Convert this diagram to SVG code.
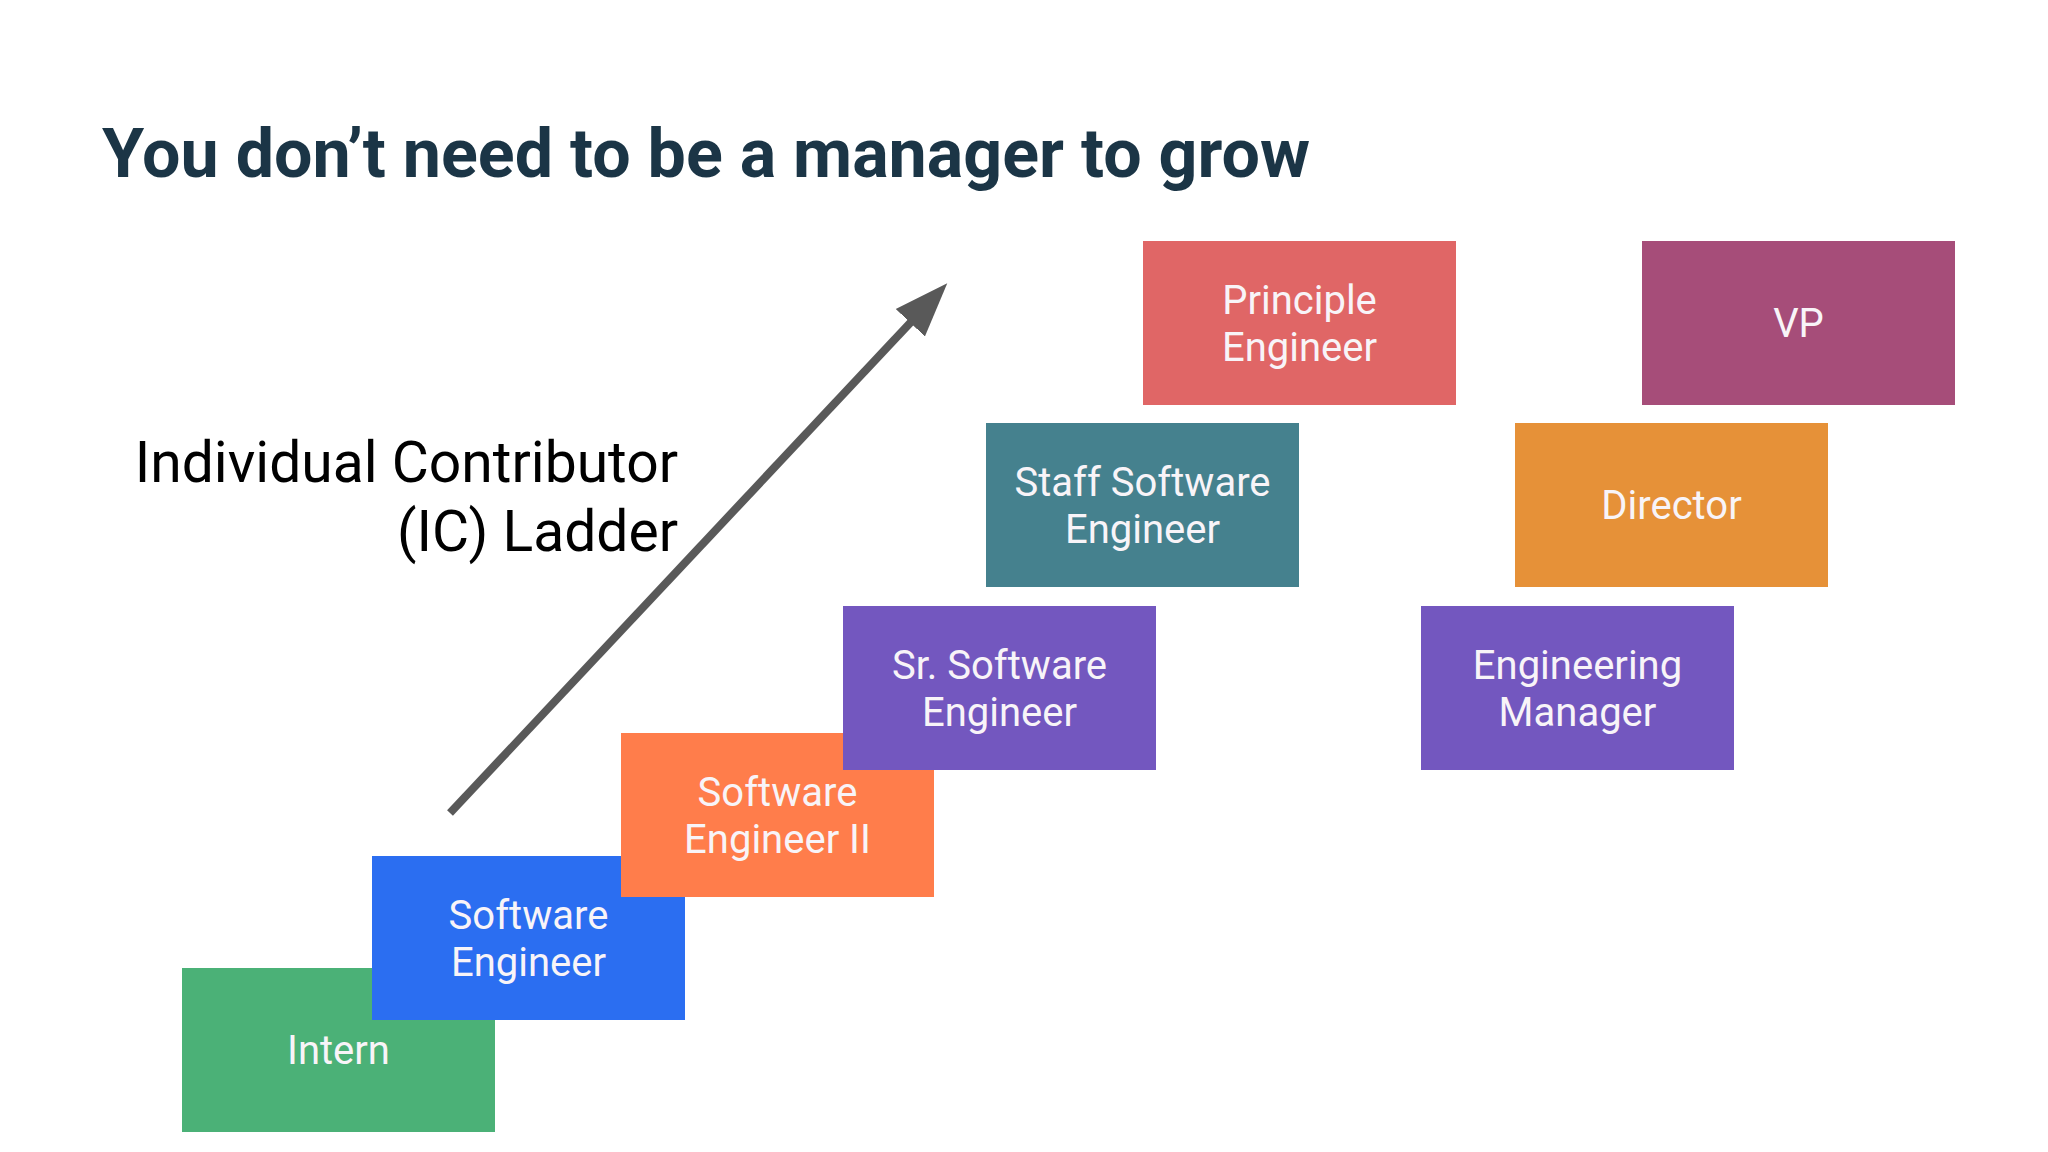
<svg xmlns="http://www.w3.org/2000/svg" width="2048" height="1152" viewBox="0 0 2048 1152">
  <style>
    .title { font-family: Roboto, "Liberation Sans", sans-serif; font-weight: 700; font-size: 68px; fill: #1b3546; }
    .side { font-family: Roboto, "Liberation Sans", sans-serif; font-size: 57px; fill: #000000; text-anchor: end; }
    .lbl { font-family: Roboto, "Liberation Sans", sans-serif; font-size: 40px; fill: #f8f4f8; text-anchor: middle; }
    .box { stroke: none; }
  </style>
  <defs>
    <marker id="ah" markerUnits="userSpaceOnUse" markerWidth="60" markerHeight="44" viewBox="0 -22 60 44" refX="1" refY="0" orient="auto">
      <path d="M0,-20 L54,0 L0,20 Z" fill="#595959"/>
    </marker>
  </defs>
  <rect width="2048" height="1152" fill="#ffffff"/>
  <text class="title" x="102" y="177" textLength="1208" lengthAdjust="spacingAndGlyphs">You don’t need to be a manager to grow</text>
  <text class="side" x="678" y="482">Individual Contributor</text>
  <text class="side" x="678" y="551">(IC) Ladder</text>
  <g id="connectors">
    <line x1="450" y1="813" x2="911" y2="322" stroke="#595959" stroke-width="8" marker-end="url(#ah)"/>
  </g>
  <g id="intern">
    <rect class="box" x="182" y="968" width="313" height="164" fill="#4bb177"/>
    <text class="lbl" x="338.5" y="1064">Intern</text>
  </g>
  <g id="software-engineer">
    <rect class="box" x="372" y="856" width="313" height="164" fill="#2b6ef1"/>
    <text class="lbl" x="528.5" y="929">Software</text>
    <text class="lbl" x="528.5" y="976">Engineer</text>
  </g>
  <g id="software-engineer-ii">
    <rect class="box" x="621" y="733" width="313" height="164" fill="#ff7d4b"/>
    <text class="lbl" x="777.5" y="806">Software</text>
    <text class="lbl" x="777.5" y="853">Engineer II</text>
  </g>
  <g id="sr-software-engineer">
    <rect class="box" x="843" y="606" width="313" height="164" fill="#7357bf"/>
    <text class="lbl" x="999.5" y="679">Sr. Software</text>
    <text class="lbl" x="999.5" y="726">Engineer</text>
  </g>
  <g id="staff-software-engineer">
    <rect class="box" x="986" y="423" width="313" height="164" fill="#45818e"/>
    <text class="lbl" x="1142.5" y="496">Staff Software</text>
    <text class="lbl" x="1142.5" y="543">Engineer</text>
  </g>
  <g id="principle-engineer">
    <rect class="box" x="1143" y="241" width="313" height="164" fill="#e06666"/>
    <text class="lbl" x="1299.5" y="314">Principle</text>
    <text class="lbl" x="1299.5" y="361">Engineer</text>
  </g>
  <g id="vp">
    <rect class="box" x="1642" y="241" width="313" height="164" fill="#a64d79"/>
    <text class="lbl" x="1798.5" y="337">VP</text>
  </g>
  <g id="director">
    <rect class="box" x="1515" y="423" width="313" height="164" fill="#e69138"/>
    <text class="lbl" x="1671.5" y="519">Director</text>
  </g>
  <g id="engineering-manager">
    <rect class="box" x="1421" y="606" width="313" height="164" fill="#7357bf"/>
    <text class="lbl" x="1577.5" y="679">Engineering</text>
    <text class="lbl" x="1577.5" y="726">Manager</text>
  </g>
</svg>
